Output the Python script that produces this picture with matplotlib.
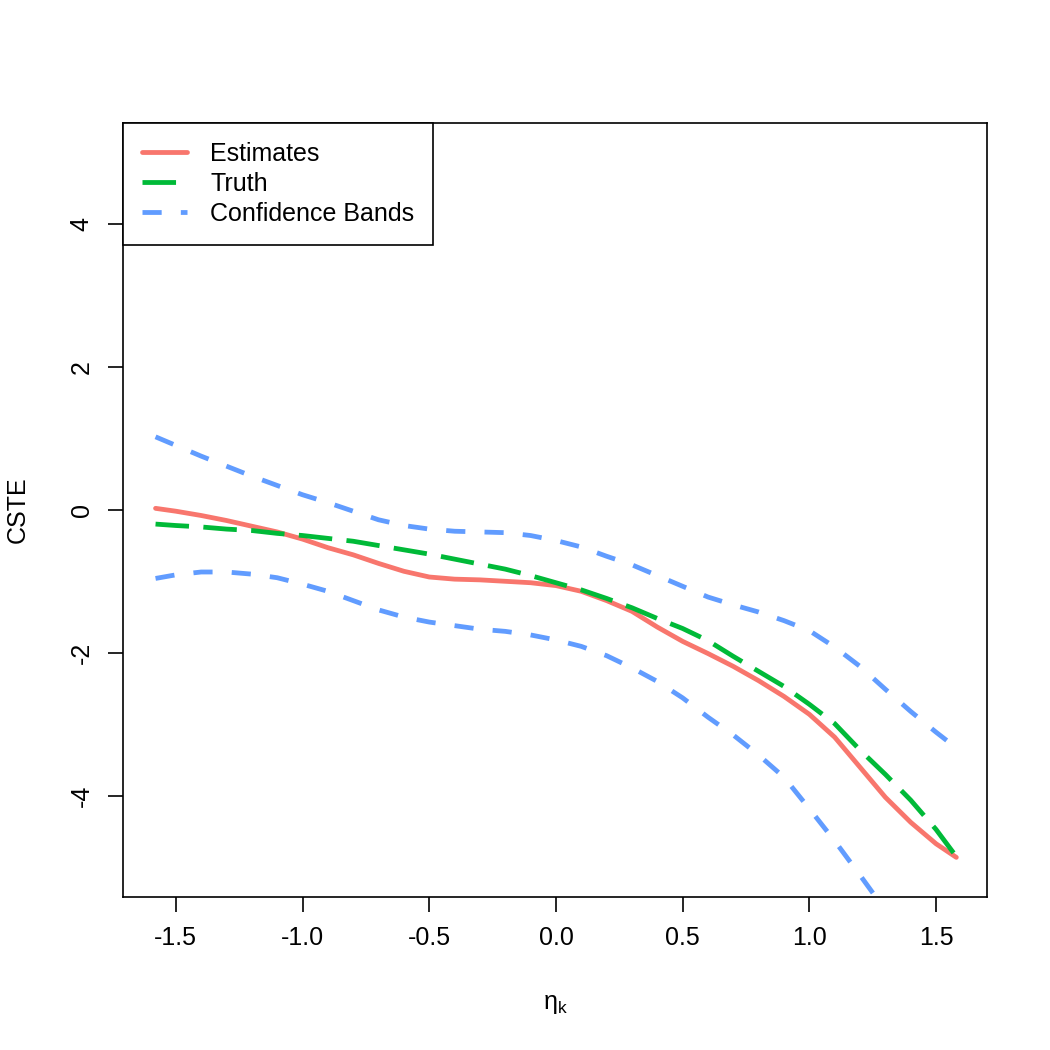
import matplotlib
matplotlib.use("Agg")
import matplotlib.pyplot as plt

plt.rcParams["font.family"] = ["Liberation Sans", "DejaVu Sans"]
plt.rcParams["mathtext.fontset"] = "dejavusans"
plt.rcParams["mathtext.default"] = "regular"

# values
eta = [-1.58, -1.5, -1.4, -1.3, -1.2, -1.1, -1.0, -0.9, -0.8, -0.7, -0.6,
       -0.5, -0.4, -0.3, -0.2, -0.1, 0.0, 0.1, 0.2, 0.3, 0.4, 0.5,
       0.6, 0.7, 0.8, 0.9, 1.0, 1.1, 1.2, 1.3, 1.4, 1.5, 1.58]
estimates = [0.02, -0.02, -0.08, -0.15, -0.23, -0.31, -0.41, -0.53, -0.63, -0.75, -0.86,
             -0.94, -0.97, -0.98, -1.00, -1.02, -1.06, -1.14, -1.27, -1.42, -1.64, -1.84,
             -2.01, -2.19, -2.39, -2.61, -2.86, -3.18, -3.60, -4.02, -4.37, -4.67, -4.86]
truth = [-0.20, -0.22, -0.24, -0.27, -0.29, -0.33, -0.36, -0.40, -0.44, -0.50, -0.56,
         -0.62, -0.69, -0.76, -0.83, -0.92, -1.02, -1.12, -1.24, -1.37, -1.52, -1.66,
         -1.83, -2.05, -2.26, -2.47, -2.72, -2.99, -3.36, -3.70, -4.06, -4.47, -4.85]
upper = [1.02, 0.90, 0.75, 0.61, 0.47, 0.34, 0.21, 0.10, -0.02, -0.14, -0.22,
         -0.27, -0.30, -0.31, -0.32, -0.36, -0.43, -0.52, -0.65, -0.77, -0.92, -1.07,
         -1.22, -1.33, -1.43, -1.55, -1.69, -1.92, -2.19, -2.51, -2.82, -3.11, -3.33]
lower = [-0.96, -0.91, -0.87, -0.87, -0.90, -0.95, -1.04, -1.14, -1.27, -1.40, -1.50,
         -1.57, -1.62, -1.67, -1.70, -1.75, -1.82, -1.91, -2.04, -2.21, -2.40, -2.63,
         -2.90, -3.15, -3.43, -3.74, -4.18, -4.63, -5.11, -5.60, -6.10, -6.60, -7.00]

xticks = [-1.5, -1.0, -0.5, 0.0, 0.5, 1.0, 1.5]
yticks = [-4, -2, 0, 2, 4]

RED, GREEN, BLUE = "#F8766D", "#00BA38", "#619CFF"
LW = 2.3

fig = plt.figure(figsize=(7, 7), dpi=150)
ax = fig.add_axes([0.117, 0.146, 0.823, 0.737])

ax.plot(eta, estimates, color=RED, lw=LW, solid_capstyle="round",
        solid_joinstyle="round", label="Estimates")
ax.plot(eta, truth, color=GREEN, lw=LW, dashes=(7, 3), dash_capstyle="butt", label="Truth")
ax.plot(eta, upper, color=BLUE, lw=LW, dashes=(4, 4), dash_capstyle="butt",
        label="Confidence Bands")
ax.plot(eta, lower, color=BLUE, lw=LW, dashes=(4, 4), dash_capstyle="butt")

ax.set_xlim(-1.709, 1.701)
ax.set_ylim(-5.41, 5.41)
ax.set_xticks(xticks)
ax.set_xticklabels([f"{v:.1f}" for v in xticks])
ax.set_yticks(yticks)
ax.set_yticklabels([str(v) for v in yticks], rotation=90, va="center")
ax.tick_params(direction="out", length=7, width=0.8, labelsize=12, pad=7, color="black")
for s in ax.spines.values():
    s.set_linewidth(0.8)
    s.set_color("black")

ax.set_xlabel(r"$\eta_k$", fontsize=12, labelpad=20)
ax.set_ylabel("CSTE", fontsize=12, labelpad=19)

leg = ax.legend(loc="upper left", borderaxespad=0, fancybox=False, framealpha=1,
                edgecolor="black", fontsize=12, handlelength=1.8, handletextpad=0.95,
                labelspacing=0.25, borderpad=0.75)
leg.get_frame().set_linewidth(0.8)

fig.savefig("out.png", dpi=150)
